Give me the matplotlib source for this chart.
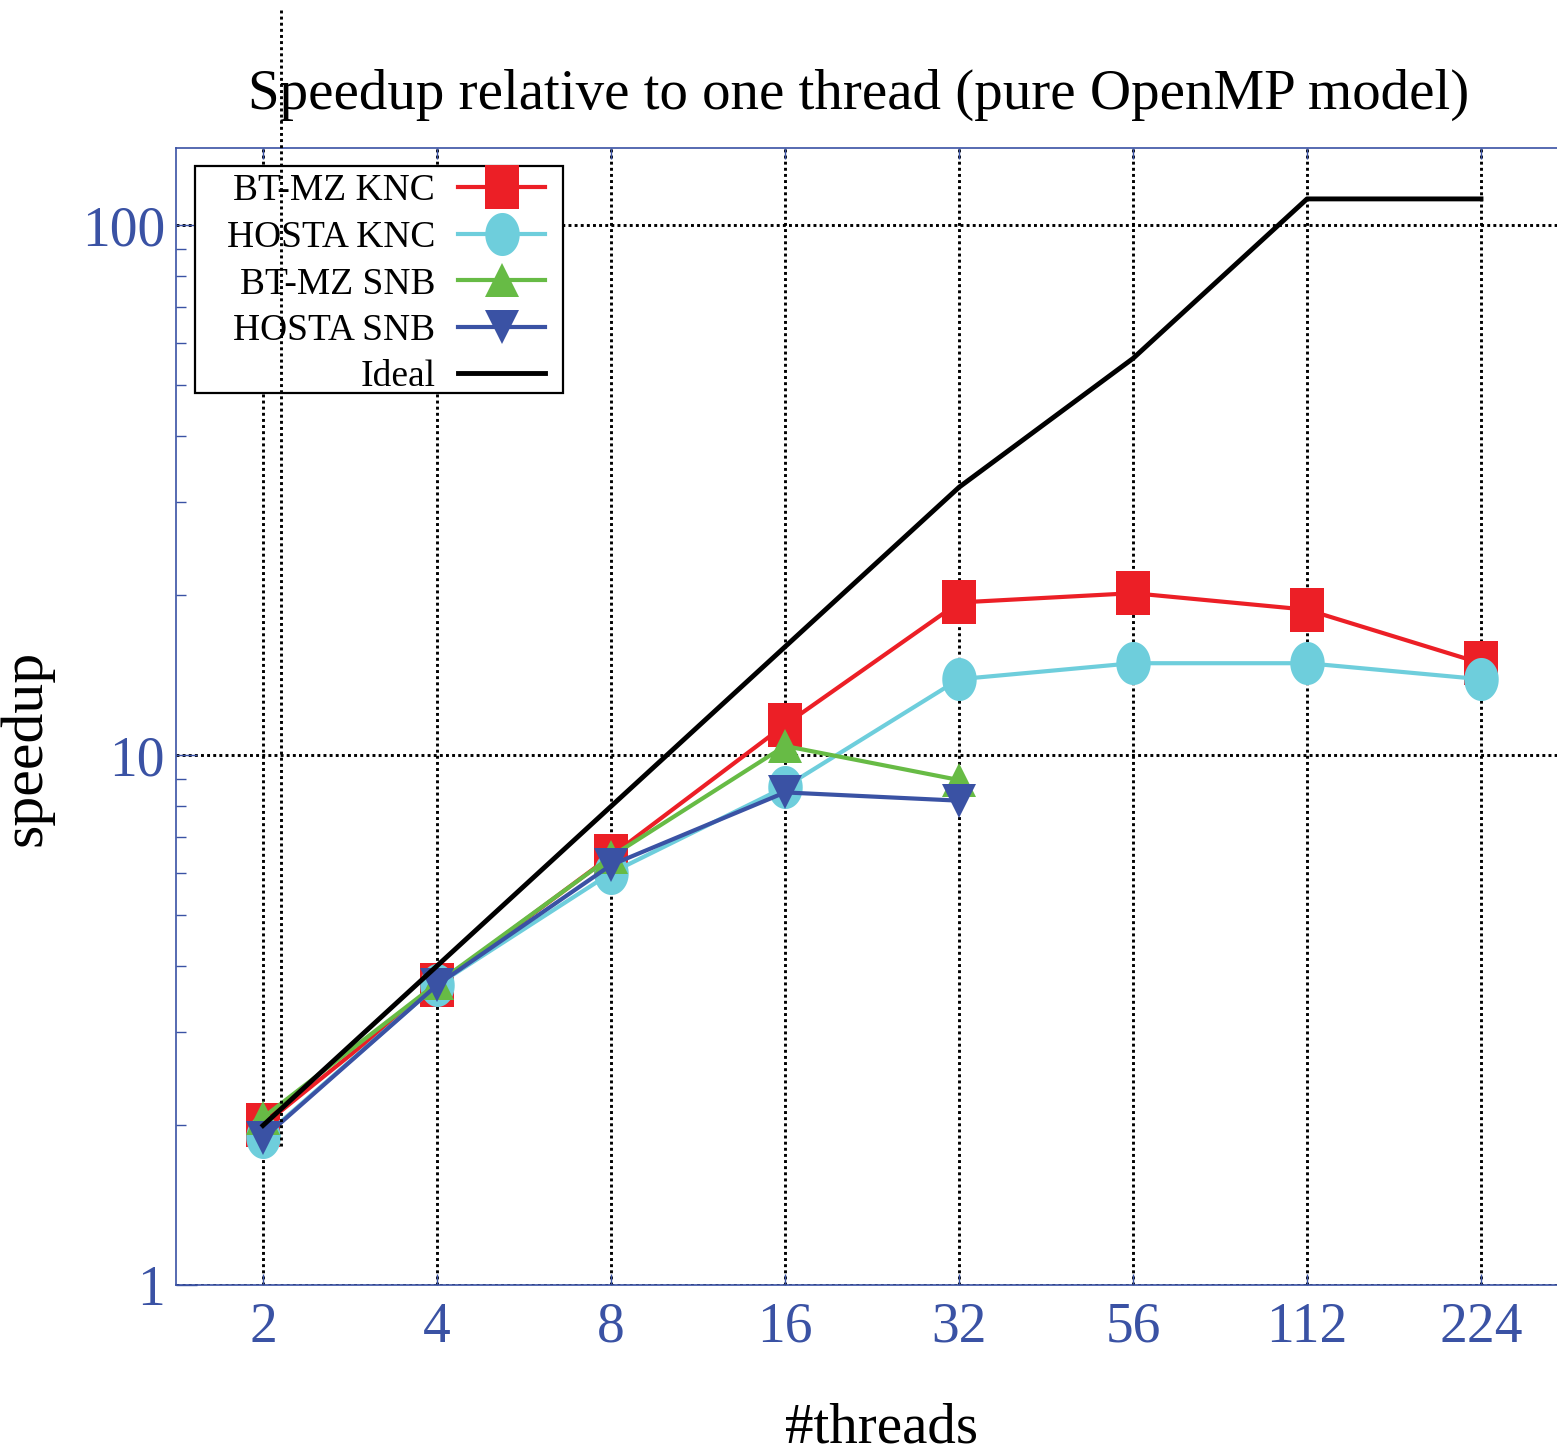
import numpy as np
import matplotlib
matplotlib.use("Agg")
import matplotlib.pyplot as plt
from matplotlib.path import Path
from matplotlib.lines import Line2D
from matplotlib.patches import Rectangle

plt.rcParams['font.family'] = ['Liberation Serif', 'DejaVu Serif']

threads = ["2", "4", "8", "16", "32", "56", "112", "224"]
btmz_knc = [2.0, 3.68, 6.45, 11.4, 19.4, 20.2, 18.8, 14.9]
hosta_knc = [1.90, 3.68, 5.99, 8.7, 13.9, 14.9, 14.9, 13.9]
btmz_snb = [2.07, 3.71, 6.43, 10.4, 8.97]
hosta_snb = [1.89, 3.68, 6.2, 8.5, 8.2]
ideal = [2, 4, 8, 16, 32, 56, 112, 112]

RED = "#ec1f26"
CYAN = "#6ecedc"
GREEN = "#67bb45"
BLUE = "#3a52a4"
AXBLUE = "#3a52a4"

# vertically stretched markers (as in the reference)
t = np.linspace(0, 2 * np.pi, 64)
ellipse = Path(np.column_stack([0.4 * np.cos(t), 0.5 * np.sin(t)]), closed=True)
rect = Path([(-0.4, -0.5), (0.4, -0.5), (0.4, 0.5), (-0.4, 0.5), (-0.4, -0.5)], closed=True)

W, H = 1557, 1454
fig = plt.figure(figsize=(W / 100, H / 100), dpi=100)
ax = fig.add_axes([176 / W, 1 - 1285 / H, (1557 - 176) / W, (1285 - 148) / H])

x = np.arange(len(threads))
ax.plot(x, btmz_knc, color=RED, lw=3, marker=rect, ms=31, mew=0, label="BT-MZ KNC")
ax.plot(x, hosta_knc, color=CYAN, lw=3, marker=ellipse, ms=31, mew=0, label="HOSTA KNC")
ax.plot(x[:len(btmz_snb)], btmz_snb, color=GREEN, lw=3, marker="^", ms=25, mew=0, label="BT-MZ SNB")
ax.plot(x[:len(hosta_snb)], hosta_snb, color=BLUE, lw=3, marker="v", ms=25, mew=0, label="HOSTA SNB")
ax.plot(x, ideal, color="black", lw=3.5, label="Ideal")

ax.set_yscale("log")
ax.set_ylim(1, 10 ** ((1285 - 148) / 530))
ax.set_xlim(-0.5, (1557 - 263) / 174)
ax.set_xticks(x)
ax.set_xticklabels(threads)
ax.set_yticks([1, 10, 100])
ax.set_yticklabels(["1", "10", "100"])
ax.yaxis.set_minor_locator(matplotlib.ticker.LogLocator(base=10, subs=np.arange(2, 10)))
ax.yaxis.set_minor_formatter(matplotlib.ticker.NullFormatter())

ax.tick_params(axis="both", which="both", direction="in", colors=AXBLUE, labelsize=40)
ax.tick_params(axis="x", which="major", top=True, bottom=True, length=8, width=1, pad=12)
ax.tick_params(axis="y", which="major", length=15, width=1, pad=8)
ax.tick_params(axis="y", which="minor", length=7, width=1)
for lab in ax.get_xticklabels() + ax.get_yticklabels():
    lab.set_color(AXBLUE)

for side in ["left", "top", "bottom"]:
    ax.spines[side].set_color(AXBLUE)
    ax.spines[side].set_linewidth(1.2)
ax.spines["right"].set_visible(False)

DOT = (0, (1, 1.1))
ax.grid(True, which="major", color="black", linestyle=DOT, linewidth=2.1)
ax.set_axisbelow(True)

ax.set_title("Speedup relative to one thread (pure OpenMP model)", fontsize=41, pad=28.5, x=0.494)
ax.set_ylabel("speedup", fontsize=43)
ax.yaxis.set_label_coords(-0.089, 0.4727)
ax.set_xlabel("#threads", fontsize=41)
ax.xaxis.set_label_coords(0.511, -0.103)

# legend: separate frame + frameless legend anchored inside it
ax.add_patch(Rectangle((195 / W, 1 - 393 / H), (563 - 195) / W, (393 - 166) / H,
                       transform=fig.transFigure, facecolor="white", edgecolor="black",
                       linewidth=1.6, zorder=4.5, clip_on=False))
leg = ax.legend(loc="upper right", bbox_to_anchor=(563 / W, 1 - 156 / H),
                bbox_transform=fig.transFigure, fontsize=27, markerfirst=False,
                frameon=False, handlelength=2.32, borderpad=0.48, labelspacing=0.32,
                handletextpad=0.61, borderaxespad=0)
leg.set_zorder(5)

# stray dotted guide line seen in the reference
fig.add_artist(Line2D([281 / W, 281 / W], [1 - 10 / H, 1 - 1147 / H], transform=fig.transFigure,
                      color="black", linestyle=DOT, linewidth=2.1, zorder=10))

fig.savefig("out.png", dpi=100)
